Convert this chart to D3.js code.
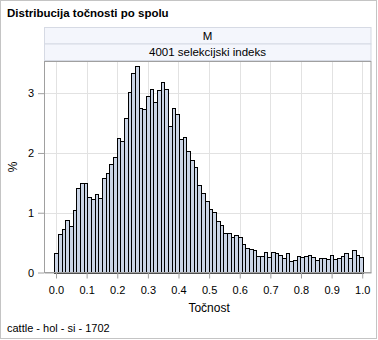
<!DOCTYPE html>
<html>
<head>
<meta charset="utf-8">
<script src="https://cdn.jsdelivr.net/npm/d3@7"></script>
<style>
  html, body { margin: 0; padding: 0; background: #fff; }
  svg { display: block; font-family: "Liberation Sans", Arial, sans-serif; }
</style>
</head>
<body>
<svg id="chart" width="378" height="340"></svg>
<script>
// Histogram bin width and percentage per bin (bin midpoints at k * binWidth)
const binWidth = 0.012;
const percents = [
  0.32, 0.64, 0.73, 0.88, 0.77, 1.04, 1.41, 1.50, 1.50, 1.27,
  1.23, 1.32, 1.245, 1.575, 1.67, 1.82, 1.93, 2.245, 2.20, 2.58,
  3.02, 3.335, 3.45, 2.76, 2.74, 2.955, 3.07, 2.85, 3.055, 3.18,
  3.07, 2.445, 2.75, 2.65, 2.23, 2.26, 2.03, 1.88, 1.76, 1.46,
  1.335, 1.19, 1.07, 1.01, 0.855, 0.80, 0.665, 0.665, 0.60, 0.62,
  0.60, 0.485, 0.41, 0.40, 0.375, 0.28, 0.28, 0.335, 0.26, 0.35,
  0.32, 0.285, 0.235, 0.32, 0.20, 0.205, 0.27, 0.255, 0.27, 0.29,
  0.255, 0.205, 0.25, 0.25, 0.22, 0.30, 0.22, 0.25, 0.27, 0.32,
  0.25, 0.37, 0.285, 0.26
];
const xTicks = [0.0, 0.1, 0.2, 0.3, 0.4, 0.5, 0.6, 0.7, 0.8, 0.9, 1.0];
const yTicks = [0, 1, 2, 3];
const titleText = "Distribucija točnosti po spolu";
const panelLabels = ["M", "4001 selekcijski indeks"];
const xLabel = "Točnost";
const yLabel = "%";
const footnote = "cattle - hol - si - 1702";

const bins = percents.map((p, k) => ({ mid: k * binWidth, value: p }));

const svg = d3.select("#chart");

// Plot frame
const plot = { left: 44, right: 371, top: 61.5, bottom: 272.5 };

const x = d3.scaleLinear().domain([-0.0392, 1.0286]).range([plot.left, plot.right]);
const y = d3.scaleLinear().domain([0, 3.53]).range([plot.bottom, plot.top]);

// Outer border
svg.append("rect")
  .attr("x", 0.5).attr("y", 0.5).attr("width", 376).attr("height", 338)
  .attr("fill", "none").attr("stroke", "#c4c4c4");

// Title
svg.append("text")
  .attr("x", 7).attr("y", 17)
  .attr("font-size", 11.5).attr("font-weight", "bold").attr("fill", "#000")
  .text(titleText);

// Class header panels
const panelH = 16.5;
panelLabels.forEach((lab, i) => {
  const top = 27.5 + i * panelH;
  svg.append("rect")
    .attr("x", plot.left + 0.5).attr("y", top)
    .attr("width", plot.right - plot.left - 0.5).attr("height", panelH)
    .attr("fill", "#f4f6fc").attr("stroke", "#d6dae4");
  svg.append("text")
    .attr("x", (plot.left + plot.right) / 2).attr("y", top + panelH / 2 + 4)
    .attr("text-anchor", "middle").attr("font-size", 11.5).attr("fill", "#000")
    .text(lab);
});

// Grid lines
const grid = svg.append("g");
grid.selectAll("line.vx").data(xTicks).join("line")
  .attr("x1", d => Math.round(x(d)) + 0.5).attr("x2", d => Math.round(x(d)) + 0.5)
  .attr("y1", plot.top).attr("y2", plot.bottom)
  .attr("stroke", "#e2e2e2");
grid.selectAll("line.hy").data(yTicks.filter(d => d > 0)).join("line")
  .attr("x1", plot.left).attr("x2", plot.right)
  .attr("y1", d => Math.round(y(d)) + 0.5).attr("y2", d => Math.round(y(d)) + 0.5)
  .attr("stroke", "#e2e2e2");

// Bars, edges snapped to the pixel grid for crisp outlines
const px = v => Math.round(v) + 0.5;
svg.append("g").selectAll("rect").data(bins).join("rect")
  .attr("x", d => px(x(d.mid - binWidth / 2)))
  .attr("width", d => Math.round(x(d.mid + binWidth / 2)) - Math.round(x(d.mid - binWidth / 2)))
  .attr("y", d => px(y(d.value)))
  .attr("height", d => Math.round(y(0)) - Math.round(y(d.value)))
  .attr("fill", "#cbd5e6").attr("stroke", "#000").attr("stroke-width", 1);

// Frame
svg.append("rect")
  .attr("x", plot.left + 0.5).attr("y", plot.top)
  .attr("width", plot.right - plot.left - 0.5).attr("height", plot.bottom - plot.top)
  .attr("fill", "none").attr("stroke", "#a0a0a0");

// Axes
const xAxis = d3.axisBottom(x).tickValues(xTicks).tickFormat(d3.format(".1f"))
  .tickSizeInner(6).tickSizeOuter(0).tickPadding(8);
const gx = svg.append("g").attr("transform", `translate(0,${plot.bottom})`).call(xAxis);
gx.select(".domain").attr("stroke", "#a0a0a0");
gx.selectAll(".tick line").attr("stroke", "#a0a0a0");
gx.selectAll("text").attr("font-size", 11).attr("fill", "#000").attr("font-family", "Liberation Sans, Arial, sans-serif");

const yAxis = d3.axisLeft(y).tickValues(yTicks).tickFormat(d3.format("d"))
  .tickSizeInner(6).tickSizeOuter(0).tickPadding(4);
const gy = svg.append("g").attr("transform", `translate(${plot.left},0)`).call(yAxis);
gy.select(".domain").attr("stroke", "#a0a0a0");
gy.selectAll(".tick line").attr("stroke", "#a0a0a0");
gy.selectAll("text").attr("font-size", 11).attr("fill", "#000").attr("font-family", "Liberation Sans, Arial, sans-serif");

// Axis labels
svg.append("text")
  .attr("x", (x(0) + x(1)) / 2).attr("y", 312)
  .attr("text-anchor", "middle").attr("font-size", 12).attr("fill", "#000")
  .text(xLabel);
svg.append("text")
  .attr("transform", `translate(17,${(plot.top + plot.bottom) / 2}) rotate(-90)`)
  .attr("text-anchor", "middle").attr("font-size", 12).attr("fill", "#000")
  .text(yLabel);

// Footnote
svg.append("text")
  .attr("x", 7).attr("y", 332)
  .attr("font-size", 11).attr("fill", "#000")
  .text(footnote);
</script>
</body>
</html>
